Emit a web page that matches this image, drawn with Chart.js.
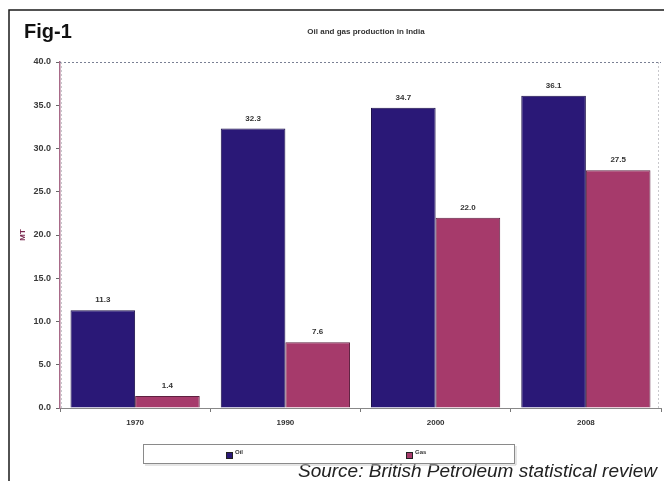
<!DOCTYPE html>
<html>
<head>
<meta charset="utf-8">
<script src="https://cdn.jsdelivr.net/npm/chart.js@4/dist/chart.umd.min.js"></script>
<style>
  html, body { margin: 0; padding: 0; background: #ffffff; }
  #wrap { width: 664px; height: 481px; position: relative; }
</style>
</head>
<body>
<div id="wrap"><canvas id="c" width="664" height="481"></canvas></div>
<script>
// Oil and gas production in India (million tonnes)
const years = ['1970', '1990', '2000', '2008'];
const oil = [11.3, 32.3, 34.7, 36.1];
const gas = [1.4, 7.6, 22.0, 27.5];
const yTicks = [0, 5, 10, 15, 20, 25, 30, 35, 40];

const OIL_COLOR = '#2a1877';
const GAS_COLOR = '#a63a6b';

// Page frame, figure tag, title and source line
const decorPlugin = {
  id: 'decor',
  beforeDraw(chart) {
    const ctx = chart.ctx;
    ctx.save();
    ctx.fillStyle = '#ffffff';
    ctx.fillRect(0, 0, chart.width, chart.height);
    ctx.strokeStyle = '#1a1a1a';
    ctx.lineWidth = 1.5;
    ctx.beginPath();
    ctx.moveTo(9, chart.height);
    ctx.lineTo(9, 10);
    ctx.lineTo(chart.width, 10);
    ctx.stroke();

    ctx.fillStyle = '#111111';
    ctx.font = 'bold 20px "Liberation Sans", Arial, sans-serif';
    ctx.textAlign = 'left';
    ctx.textBaseline = 'alphabetic';
    ctx.fillText('Fig-1', 24, 38);

    ctx.font = 'bold 8px "Liberation Sans", Arial, sans-serif';
    ctx.fillStyle = '#333333';
    ctx.textAlign = 'center';
    ctx.fillText('Oil and gas production in India', 366, 34);

    ctx.font = 'italic 19px "Liberation Sans", Arial, sans-serif';
    ctx.fillStyle = '#222222';
    ctx.textAlign = 'right';
    ctx.fillText('Source: British Petroleum statistical review', 657, 477);
    ctx.restore();
  },
  beforeDatasetsDraw(chart) {
    // dotted frame round the plot area
    const { ctx, chartArea: a } = chart;
    ctx.save();
    ctx.lineWidth = 1;
    ctx.setLineDash([2, 2]);
    ctx.strokeStyle = '#7a8094';
    ctx.beginPath();
    ctx.moveTo(a.left, a.top + 0.5);
    ctx.lineTo(a.right, a.top + 0.5);
    ctx.stroke();
    ctx.strokeStyle = '#c8c8cc';
    ctx.beginPath();
    ctx.moveTo(a.right - 2.5, a.top);
    ctx.lineTo(a.right - 2.5, a.bottom);
    ctx.moveTo(a.left + 1.5, a.top);
    ctx.lineTo(a.left + 1.5, a.bottom);
    ctx.stroke();
    ctx.restore();
  }
};

// Value labels above each bar
const valueLabels = {
  id: 'valueLabels',
  afterDatasetsDraw(chart) {
    const ctx = chart.ctx;
    ctx.save();
    ctx.font = 'bold 8px "Liberation Sans", Arial, sans-serif';
    ctx.fillStyle = '#333333';
    ctx.textAlign = 'center';
    ctx.textBaseline = 'bottom';
    chart.data.datasets.forEach((ds, i) => {
      chart.getDatasetMeta(i).data.forEach((bar, j) => {
        ctx.fillText(ds.data[j].toFixed(1), bar.x, bar.y - 6);
      });
    });
    ctx.restore();
  }
};

// Boxed legend below the axis
const boxLegend = {
  id: 'boxLegend',
  afterDraw(chart) {
    const ctx = chart.ctx;
    ctx.save();
    ctx.fillStyle = '#ffffff';
    ctx.strokeStyle = '#8a8a8a';
    ctx.lineWidth = 1;
    ctx.fillRect(143, 444, 371, 19);
    ctx.strokeRect(143.5, 444.5, 371, 19);
    ctx.strokeStyle = '#cccccc';
    ctx.beginPath();
    ctx.moveTo(145, 465); ctx.lineTo(516, 465); ctx.lineTo(516, 446);
    ctx.stroke();
    const xs = [226, 406];
    ctx.font = 'bold 6px "Liberation Sans", Arial, sans-serif';
    ctx.textAlign = 'left';
    ctx.textBaseline = 'middle';
    chart.data.datasets.forEach((ds, i) => {
      ctx.fillStyle = ds.backgroundColor;
      ctx.fillRect(xs[i], 452, 7, 7);
      ctx.strokeStyle = '#222222';
      ctx.strokeRect(xs[i] + 0.5, 452.5, 6, 6);
      ctx.fillStyle = '#333333';
      ctx.fillText(ds.label, xs[i] + 9, 452);
    });
    ctx.restore();
  }
};

new Chart(document.getElementById('c'), {
  type: 'bar',
  data: {
    labels: years,
    datasets: [
      { label: 'Oil', data: oil, backgroundColor: OIL_COLOR, borderColor: '#1b0f4a', borderWidth: 1 },
      { label: 'Gas', data: gas, backgroundColor: GAS_COLOR, borderColor: '#5e2040', borderWidth: 1 }
    ]
  },
  options: {
    responsive: false,
    animation: false,
    events: [],
    layout: { padding: { left: 16, right: 3, top: 62, bottom: 53 } },
    plugins: { legend: { display: false }, title: { display: false }, tooltip: { enabled: false } },
    datasets: { bar: { categoryPercentage: 0.86, barPercentage: 1.0 } },
    scales: {
      x: {
        offset: true,
        grid: { offset: true, drawOnChartArea: false, drawTicks: true, tickLength: 4, color: '#777777' },
        border: { color: '#888888' },
        ticks: {
          font: { family: '"Liberation Sans", Arial, sans-serif', size: 8, weight: 'bold' },
          color: '#333333',
          padding: 6
        },
        afterFit(scale) { scale.height = 20; }
      },
      y: {
        min: 0,
        max: 40,
        afterBuildTicks(scale) { scale.ticks = yTicks.map(v => ({ value: v })); },
        grid: { drawOnChartArea: false, drawTicks: true, tickLength: 4, color: '#666666' },
        border: { color: '#a86a88', width: 1.5 },
        ticks: {
          font: { family: '"Liberation Sans", Arial, sans-serif', size: 9, weight: 'bold' },
          color: '#3a3a3a',
          padding: 5,
          callback: v => Number(v).toFixed(1)
        },
        title: {
          display: true,
          text: 'MT',
          color: '#7a2a50',
          font: { family: '"Liberation Sans", Arial, sans-serif', size: 8, weight: 'bold' },
          padding: { top: 2, bottom: 6 }
        },
        afterFit(scale) { scale.width = 44; }
      }
    }
  },
  plugins: [decorPlugin, valueLabels, boxLegend]
});
</script>
</body>
</html>
